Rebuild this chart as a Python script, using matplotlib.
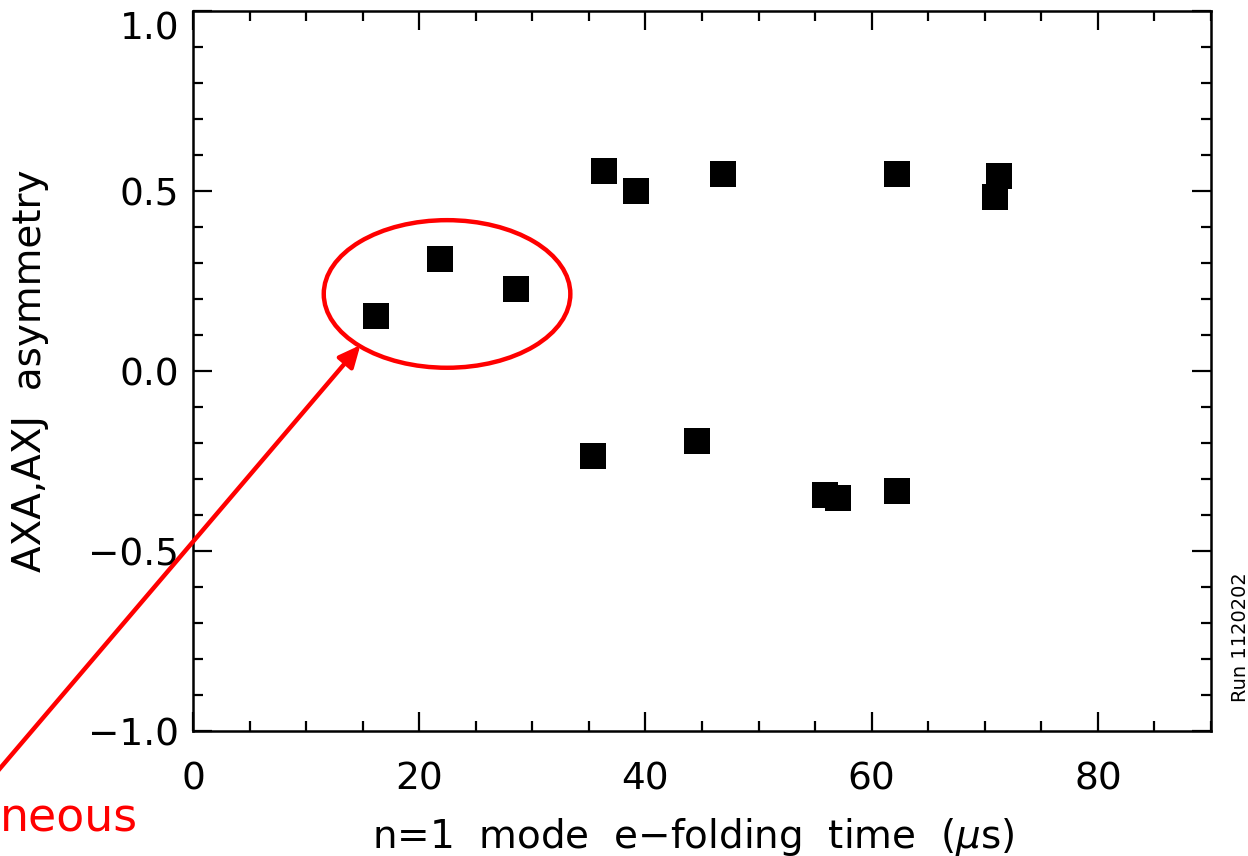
import numpy as np
import matplotlib.pyplot as plt
from matplotlib.patches import Ellipse
from matplotlib.ticker import MultipleLocator

plt.rcParams['font.family'] = ['DejaVu Sans']
plt.rcParams['mathtext.fontset'] = 'dejavusans'

# e-folding time (us) and asymmetry
efold_time = [16.2, 21.8, 28.6, 36.3, 39.2, 46.9, 62.2, 71.3, 70.9,
              35.4, 44.6, 55.9, 57.0, 62.2]
asymmetry = [0.153, 0.311, 0.228, 0.556, 0.500, 0.547, 0.547, 0.542, 0.483,
             -0.236, -0.194, -0.344, -0.353, -0.333]
yticks = [-1, -0.5, 0, 0.5, 1]
ytick_labels = ['\u22121.0', '\u22120.5', '0.0', '0.5', '1.0']

fig = plt.figure(figsize=(12.48, 8.56), dpi=100)
ax = fig.add_axes([193/1248, 1 - 731/856, 1018/1248, 720/856])

ax.plot(efold_time, asymmetry, 's', color='black', markersize=18.5,
        markeredgewidth=0)

ax.set_xlim(0, 90)
ax.set_ylim(-1, 1)
ax.xaxis.set_major_locator(MultipleLocator(20))
ax.xaxis.set_minor_locator(MultipleLocator(5))
ax.yaxis.set_minor_locator(MultipleLocator(0.1))
ax.set_yticks(yticks)
ax.set_yticklabels(ytick_labels)
# top label sits below its tick so it stays inside the figure
ax.get_yticklabels()[-1].set_va('top')

for s in ax.spines.values():
    s.set_linewidth(1.8)
ax.tick_params(which='both', direction='in', top=True, right=True,
               width=1.6, labelsize=27)
ax.tick_params(axis='y', pad=10)
ax.tick_params(axis='x', pad=22)
ax.tick_params(which='major', length=14)
ax.tick_params(which='minor', length=7)

ax.set_xlabel('n=1  mode  e\u2212folding  time  ($\\mu$s)', fontsize=28)
ax.set_ylabel('AXA,AXJ  asymmetry', fontsize=28)
ax.xaxis.set_label_coords(0.491, -0.118)
ax.yaxis.set_label_coords(-0.141, 0.5)

# red annotation: circled group and arrow
ell = Ellipse((22.46, 0.214), 21.8, 0.41, fill=False, edgecolor='red',
              linewidth=3.2, clip_on=False)
ax.add_patch(ell)
ax.annotate('', xy=(14.8, 0.072), xytext=(-17.5, -1.12),
            arrowprops=dict(arrowstyle='-|>,head_length=1.3,head_width=0.6',
                            color='red', lw=3.2, shrinkA=0, shrinkB=0),
            annotation_clip=False)
fig.text(0, 1 - 818/856, 'neous', color='red', fontsize=33,
         ha='left', va='center')

fig.text(1240/1248, 1 - 637/856, 'Run 1120202', fontsize=14, rotation=90,
         ha='center', va='center')

fig.savefig('out.png', dpi=100)
